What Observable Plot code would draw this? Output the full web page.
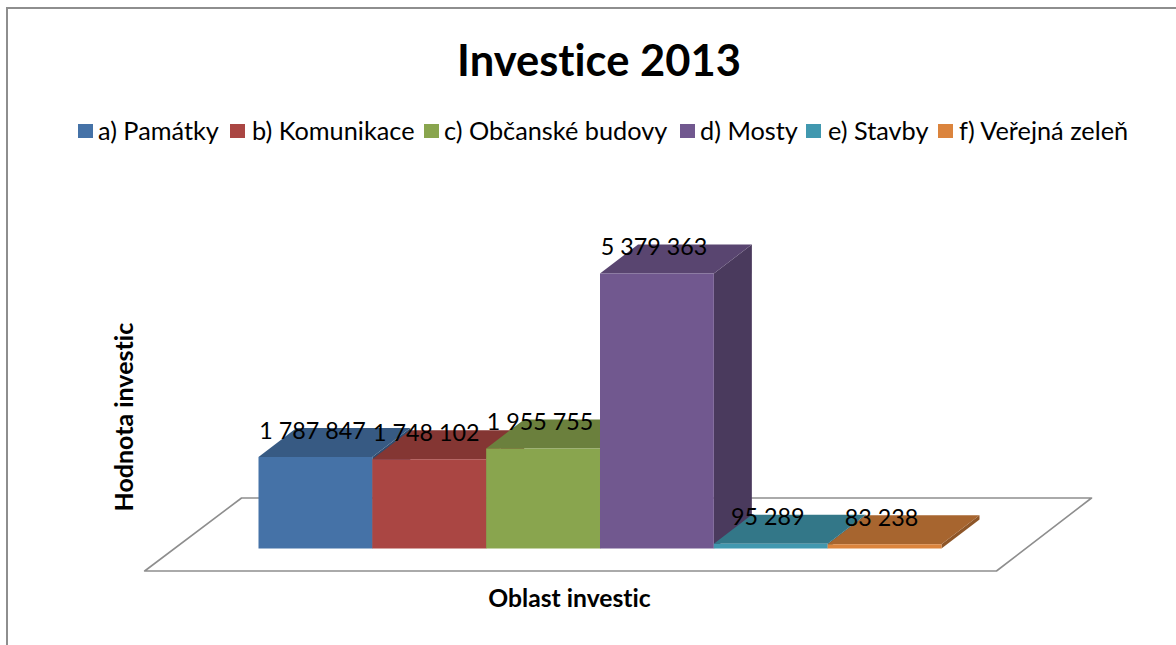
<!DOCTYPE html>
<html lang="cs">
<head>
<meta charset="utf-8">
<script src="https://cdn.jsdelivr.net/npm/d3@7"></script>
<script src="https://cdn.jsdelivr.net/npm/@observablehq/plot@0.6"></script>
<style>
html,body{margin:0;padding:0;width:1176px;height:645px;overflow:hidden;background:#fff;font-family:Lato,sans-serif;color:#000;font-variant-ligatures:none}
#frame{position:absolute;left:6px;top:7px;width:1300px;height:800px;border:2px solid #8e8e8e;box-sizing:border-box}
#head{position:relative;height:150px}
#title{position:absolute;left:11px;width:1176px;top:29px;text-align:center;font-weight:700;font-size:43.5px;line-height:60px}
.item{position:absolute;top:113px;line-height:34px;font-size:25.3px;white-space:nowrap}
.sw{position:absolute;top:124px;width:15px;height:14px}
#chart{position:relative}
svg{display:block;font-variant-ligatures:none}
</style>
</head>
<body>
<div id="frame"></div>
<div id="head"><div id="title"></div></div>
<div id="chart"></div>
<script>
const titleText = "Investice 2013";
const categories = ["a) Památky","b) Komunikace","c) Občanské budovy","d) Mosty","e) Stavby","f) Veřejná zeleň"];
const values = [1787847,1748102,1955755,5379363,95289,83238];
const labels = ["1 787 847","1 748 102","1 955 755","5 379 363","95 289","83 238"];
const fronts = ["#4572A7","#AA4643","#89A54E","#71588F","#4198AF","#DB843D"];
const tops = ["#375A83","#843633","#6B803D","#594570","#337788","#A7652F"];
const sides = ["#2F4D70","#702E2B","#5B6D34","#4A3A5D","#2B6473","#8E5628"];
const floorX = [-1.0, 6.483, 7.318, -0.149, -1.0];
const floorY = [-440000, -440000, 988000, 988000, -440000];
const depthX = 0.334;
const depthY = 567000;
const swatchLeft = [78,230,424,680,806,938];
const textLeft = [98,252,444,700,828,959];

const head = document.getElementById("head");
document.getElementById("title").textContent = titleText;
categories.forEach((c,i)=>{
  const s=document.createElement("div");s.className="sw";s.style.left=swatchLeft[i]+"px";s.style.background=fronts[i];head.appendChild(s);
  const t=document.createElement("div");t.className="item";t.style.left=textLeft[i]+"px";t.textContent=c;head.appendChild(t);
});

const faces = categories.flatMap((c,i)=>{
  const v=values[i];
  const poly=(name,color,pts)=>pts.map(([x,y])=>({x,y,face:c+name,color}));
  return [
    ...poly("side",sides[i],[[i+1,0],[i+1+depthX,depthY],[i+1+depthX,v+depthY],[i+1,v]]),
    ...poly("top",tops[i],[[i,v],[i+1,v],[i+1+depthX,v+depthY],[i+depthX,v+depthY]]),
    ...poly("front",fronts[i],[[i,0],[i+1,0],[i+1,v],[i,v]])
  ];
});
const floor = floorX.map((x,i)=>({x,y:floorY[i]}));
const table = categories.map((c,i)=>({c,i,v:values[i],label:labels[i]}));

const plot = Plot.plot({
  width:1176,height:495,
  marginTop:0,marginRight:0,marginBottom:0,marginLeft:0,
  x:{domain:[0,6],range:[258,941],axis:null},
  y:{domain:[0,5379363],range:[398,123],axis:null},
  color:{type:"identity"},
  style:{fontFamily:"Lato,sans-serif",background:"transparent",overflow:"visible"},
  marks:[
    Plot.line(floor,{x:"x",y:"y",stroke:"#8e8e8e",strokeWidth:1.6}),
    Plot.line(faces,{x:"x",y:"y",z:"face",fill:"color",stroke:null}),
    Plot.text(table,{x:d=>d.i+0.5,y:d=>d.v+depthY,text:"label",dx:-3,dy:3,fontSize:23.3,fill:"#000",textAnchor:"middle",lineAnchor:"middle"}),
    Plot.text(["Oblast investic"],{frameAnchor:"bottom",dx:-19,dy:-39,fontSize:24.7,fontWeight:700,fill:"#000"}),
    Plot.text(["Hodnota investic"],{frameAnchor:"top-left",dx:115,dy:361,rotate:-90,fontSize:25,fontWeight:700,fill:"#000"})
  ]
});
document.getElementById("chart").appendChild(plot);
</script>
</body>
</html>
